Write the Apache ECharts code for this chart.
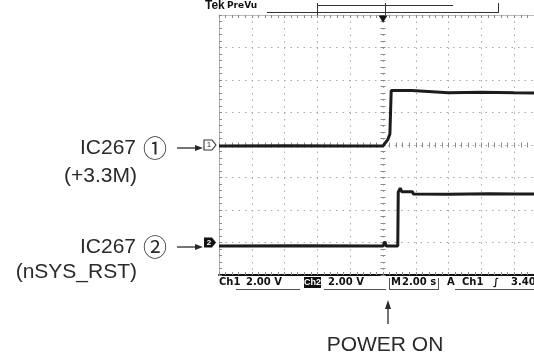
<!DOCTYPE html>
<html>
<head>
<meta charset="utf-8">
<script src="https://cdn.jsdelivr.net/npm/echarts@6/dist/echarts.min.js"></script>
<style>
html, body { margin: 0; padding: 0; background: #fff; }
#main { width: 534px; height: 361px; }
</style>
</head>
<body>
<div id="main"></div>
<script>
// scope settings: 2.00 s/div, 2.00 V/div on both channels
var timeMin = -10, timeMax = 10, timePerDiv = 2;
var voltsPerDiv = 2;
var screenDivs = 4; // divisions above / below centre
var chPosition = [0, -3]; // channel ground level in divisions

// ch1 : IC267 (+3.3M)
var ch1Time  = [-10, -6, -2, 0, 0.3, 0.42, 0.48, 0.5, 1.75, 1.8, 4, 6, 8, 10];
var ch1Volts = [-0.06, -0.04, -0.06, -0.06, 0.35, 0.68, 0.8, 3.35, 3.35, 3.25, 3.22, 3.24, 3.21, 3.2];

// ch2 : IC267 (nSYS_RST)
var ch2Time  = [-10, -5, 0, 0.12, 0.2, 0.9, 0.93, 1.05, 1.15, 1.8, 1.85, 4, 6.5, 8, 10];
var ch2Volts = [-0.22, -0.2, -0.22, 0.05, -0.22, -0.22, 3.1, 3.35, 3.12, 3.12, 2.98, 2.97, 3.0, 2.98, 2.98];

var chTags = ['1', '2'];
var statusItems = [
    ['Ch1', 219], ['2.00 V', 246], ['2.00 V', 328], ['M', 391], ['2.00 s', 402],
    ['A', 447], ['Ch1', 462], ['\u222B', 493], ['3.40', 511]
];

var myChart = echarts.init(document.getElementById('main'), null, { renderer: 'canvas' });

function toScreen(times, volts, ch) {
    return times.map(function (t, i) {
        return [t, volts[i] + chPosition[ch] * voltsPerDiv];
    });
}

var dotLine = { color: '#a8a8a8', width: 1, type: [1.5, 5] };
var tickGray = { color: '#8a8a8a', width: 1 };
var vMax = screenDivs * voltsPerDiv;

function centreX(pos) {
    return {
        gridIndex: 0, type: 'value', min: timeMin, max: timeMax, interval: timePerDiv, position: pos,
        axisLine: { show: false, onZero: true, onZeroAxisIndex: 0 },
        axisTick: { show: true, inside: true, length: 2.5, lineStyle: tickGray },
        minorTick: { show: true, splitNumber: 5, length: 2.5, lineStyle: tickGray },
        axisLabel: { show: false },
        splitLine: { show: pos === 'bottom', lineStyle: dotLine }
    };
}
function centreY(pos) {
    return {
        gridIndex: 0, type: 'value', min: -vMax, max: vMax, interval: voltsPerDiv, position: pos,
        axisLine: { show: false, onZero: true, onZeroAxisIndex: 0 },
        axisTick: { show: true, inside: true, length: 2.5, lineStyle: tickGray },
        minorTick: { show: true, splitNumber: 5, length: 2.5, lineStyle: tickGray },
        axisLabel: { show: false },
        splitLine: { show: pos === 'left', lineStyle: dotLine }
    };
}
function edgeAxis(dim, pos, lineStyle) {
    return {
        gridIndex: 1, type: 'value',
        min: dim === 'x' ? timeMin : -vMax, max: dim === 'x' ? timeMax : vMax,
        interval: dim === 'x' ? timePerDiv : voltsPerDiv, position: pos,
        axisLine: { show: true, onZero: false, lineStyle: lineStyle },
        axisTick: { show: true, inside: true, length: 3, lineStyle: tickGray },
        minorTick: { show: true, splitNumber: 5, length: 3, lineStyle: tickGray },
        axisLabel: { show: false },
        splitLine: { show: false }
    };
}

var tagPath = 'path://M0,0 L8,0 L12,5 L8,10 L0,10 Z';
var txtFont = '"Liberation Sans", Arial, sans-serif';
var scopeFont = '"DejaVu Sans", sans-serif';
var labelColor = '#2a2a2a';

var graphics = [];
// Tek PreVu header + record bar
graphics.push({ type: 'text', left: 205, top: 0, style: { text: 'Tek', font: 'bold 12px ' + txtFont, fill: '#111' } });
graphics.push({ type: 'text', left: 227, top: 1, style: { text: 'PreVu', font: 'bold 9px ' + scopeFont, fill: '#111' } });
[[267, 12.5, 498, 12.5], [317, 5.5, 453, 5.5], [317.5, 3, 317.5, 15], [385.5, 3, 385.5, 15], [498.5, 3, 498.5, 13]].forEach(function (s) {
    graphics.push({ type: 'line', shape: { x1: s[0], y1: s[1], x2: s[2], y2: s[3] }, style: { stroke: '#333', lineWidth: 1 } });
});
// status bar
statusItems.forEach(function (s) {
    graphics.push({ type: 'text', left: s[1], top: 277, style: { text: s[0], font: 'bold 10px ' + scopeFont, fill: '#111' } });
});
graphics.push({ type: 'rect', shape: { x: 304, y: 277, width: 17, height: 11 }, style: { fill: '#111' } });
graphics.push({ type: 'text', left: 304, top: 278, style: { text: 'Ch2', font: 'bold 9px ' + txtFont, fill: '#fff' } });
[[236, 289.5, 300, 289.5], [324, 289.5, 386, 289.5], [389, 289.5, 438, 289.5], [455, 289.5, 534, 289.5],
 [389.5, 278, 389.5, 290], [438.5, 278, 438.5, 290]].forEach(function (s) {
    graphics.push({ type: 'line', shape: { x1: s[0], y1: s[1], x2: s[2], y2: s[3] }, style: { stroke: '#555', lineWidth: 1 } });
});
// left call-outs
function callout(name, circ, sub, cy, subY) {
    graphics.push({ type: 'text', x: 136, y: cy, style: { text: name, font: '21px ' + txtFont, fill: labelColor, align: 'right', verticalAlign: 'middle' } });
    graphics.push({ type: 'text', x: 155, y: cy, style: { text: circ, font: '24px "Noto Sans CJK JP"', fill: labelColor, align: 'center', verticalAlign: 'middle' } });
    graphics.push({ type: 'text', x: 137, y: subY, style: { text: sub, font: '21px ' + txtFont, fill: labelColor, align: 'right', verticalAlign: 'middle' } });
    graphics.push({ type: 'line', shape: { x1: 177, y1: cy, x2: 197, y2: cy }, style: { stroke: labelColor, lineWidth: 1.3 } });
    graphics.push({ type: 'polygon', shape: { points: [[203, cy], [195, cy - 3], [195, cy + 3]] }, style: { fill: labelColor } });
}
callout('IC267', '\u2460', '(+3.3M)', 148, 176);
callout('IC267', '\u2461', '(nSYS_RST)', 247, 272);
// power on marker
graphics.push({ type: 'line', shape: { x1: 388, y1: 324, x2: 388, y2: 306 }, style: { stroke: labelColor, lineWidth: 1.3 } });
graphics.push({ type: 'polygon', shape: { points: [[388, 300], [385, 309], [391, 309]] }, style: { fill: labelColor } });
graphics.push({ type: 'text', x: 385, y: 345, style: { text: 'POWER ON', font: '21px ' + txtFont, fill: labelColor, align: 'center', verticalAlign: 'middle' } });

var option = {
    animation: false,
    backgroundColor: '#fff',
    grid: [
        { left: 219, top: 15, width: 328, height: 260, outerBoundsMode: 'none' },
        { left: 219, top: 15, width: 328, height: 260, outerBoundsMode: 'none' }
    ],
    xAxis: [centreX('bottom'), centreX('top'),
        edgeAxis('x', 'bottom', { color: '#111', width: 2 }),
        edgeAxis('x', 'top', { color: '#bbb', width: 1 })],
    yAxis: [centreY('left'), centreY('right'),
        edgeAxis('y', 'left', { color: '#aaa', width: 1 }),
        edgeAxis('y', 'right', { color: '#aaa', width: 1 })],
    series: [
        {
            type: 'line', xAxisIndex: 0, yAxisIndex: 0, clip: false,
            data: toScreen(ch1Time, ch1Volts, 0),
            symbol: 'none', z: 5,
            lineStyle: { color: '#1c1c1c', width: 3 },
            markPoint: {
                data: [
                    {
                        coord: [timeMin, chPosition[0] * voltsPerDiv], symbol: tagPath, symbolSize: [12, 10], symbolOffset: [-9, 0],
                        itemStyle: { color: '#fff', borderColor: '#333', borderWidth: 1 },
                        label: { show: true, formatter: chTags[0], color: '#333', fontSize: 8, position: 'inside', offset: [-1, 0] }
                    },
                    {
                        coord: [0, vMax], symbol: 'triangle', symbolRotate: 180, symbolSize: [9, 7], symbolOffset: [0, 4],
                        itemStyle: { color: '#111' }, label: { show: false }
                    }
                ]
            }
        },
        {
            type: 'line', xAxisIndex: 0, yAxisIndex: 0, clip: false,
            data: toScreen(ch2Time, ch2Volts, 1),
            symbol: 'none', z: 5,
            lineStyle: { color: '#1c1c1c', width: 3 },
            markPoint: {
                data: [
                    {
                        coord: [timeMin, chPosition[1] * voltsPerDiv], symbol: tagPath, symbolSize: [12, 10], symbolOffset: [-9, 0],
                        itemStyle: { color: '#111' },
                        label: { show: true, formatter: chTags[1], color: '#fff', fontSize: 8, fontWeight: 'bold', position: 'inside', offset: [-1, 0] }
                    }
                ]
            }
        }
    ],
    graphic: graphics
};

if (option && typeof option === "object") {
    myChart.setOption(option, true);
}
</script>
</body>
</html>
